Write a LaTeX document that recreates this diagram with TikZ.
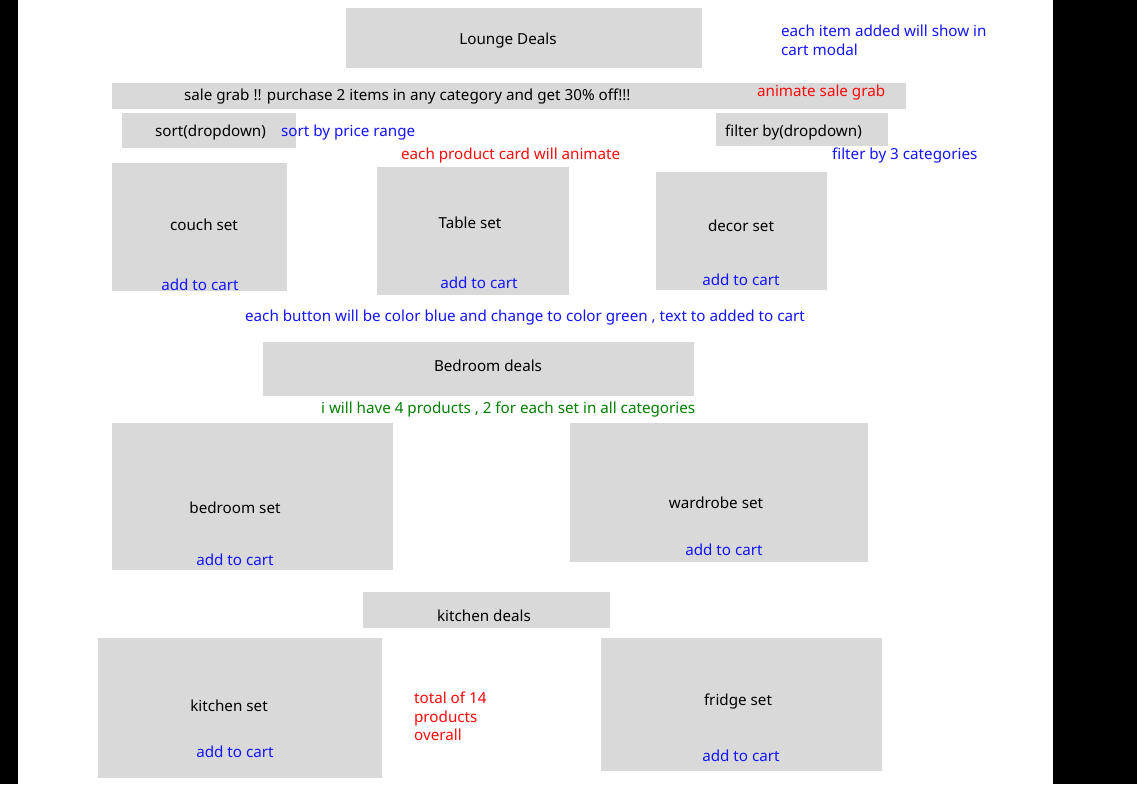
\documentclass[tikz,border=0pt]{standalone}
\usepackage{fontspec}
\setmainfont{Noto Sans}
\definecolor{boxgray}{RGB}{217,217,217}
\definecolor{noteblue}{RGB}{20,20,255}
\definecolor{notered}{RGB}{255,10,10}
\definecolor{notegreen}{RGB}{0,128,0}
\tikzset{every picture/.style={line width=0.75pt}}
\tikzset{
  card/.style={fill=boxgray, draw=none},
  txt/.style={inner sep=0.75pt, yshift=-2pt, font=\fontsize{15.2}{18.5}\selectfont, text=black},
  bluetxt/.style={txt, text=noteblue},
  redtxt/.style={txt, text=notered},
  greentxt/.style={txt, text=notegreen},
}
\begin{document}
\begin{tikzpicture}[x=1pt,y=1pt,yscale=-1,xscale=1]

	\useasboundingbox (0,0) rectangle (1137,784);
	% page frame
	\fill [white] (18,0) rectangle (1053,784);
	\fill [black] (0,0) rectangle (18,784);
	\fill [black] (1053,0) rectangle (1137,784);

	%Shape: Rectangle [header]
	\draw [card] (346,8) rectangle (702,68);
	%Shape: Rectangle [sale bar]
	\draw [card] (112,83) rectangle (906,109);
	%Shape: Rectangle [sort]
	\draw [card] (122,113) rectangle (296,148);
	%Shape: Rectangle [filter]
	\draw [card] (716,113) rectangle (888,146);

	%Shape: Rectangle [lounge cards]
	\draw [card] (112,163) rectangle (287,291);
	\draw [card] (377,167) rectangle (569,295);
	\draw [card] (656,172) rectangle (827,290);

	%Shape: Rectangle [bedroom]
	\draw [card] (263,342) rectangle (694,396);
	\draw [card] (112,423) rectangle (393,570);
	\draw [card] (570,423) rectangle (868,562);

	%Shape: Rectangle [kitchen]
	\draw [card] (363,592) rectangle (610,628);
	\draw [card] (98,638) rectangle (382,778);
	\draw [card] (601,638) rectangle (882,771);

	% Text Node
	\node (lounge) at (508,39) [txt] {Lounge Deals};
	% Text Node
	\node (modal) at (780,22) [bluetxt, anchor=north west, align=left] {each item added will show in\\cart modal};
	% Text Node
	\node (sale) at (183,95) [txt, anchor=west] {sale grab !! purchase 2 items in any category and get 30\% off!!!};
	% Text Node
	\node (animsale) at (756,91) [redtxt, anchor=west] {animate sale grab};
	% Text Node
	\node (sort) at (154,131) [txt, anchor=west] {sort(dropdown)};
	% Text Node
	\node (sortnote) at (280,131) [bluetxt, anchor=west] {sort by price range};
	% Text Node
	\node (filter) at (724,131) [txt, anchor=west] {filter by(dropdown)};
	% Text Node
	\node (filternote) at (831,154) [bluetxt, anchor=west] {filter by 3 categories};
	% Text Node
	\node (animcard) at (400,154) [redtxt, anchor=west] {each product card will animate};

	% Text Node
	\node (couch) at (204,223) [txt] {couch set};
	\node (couchcart) at (200,283) [bluetxt] {add to cart};
	% Text Node
	\node (table) at (470,221) [txt] {Table set};
	\node (tablecart) at (479,281) [bluetxt] {add to cart};
	% Text Node
	\node (decor) at (741,224) [txt] {decor set};
	\node (decorcart) at (741,278) [bluetxt] {add to cart};

	% Text Node
	\node (btnnote) at (244,316) [bluetxt, anchor=west] {each button will be color blue and change to color green , text to added to cart};
	% Text Node
	\node (bedroom) at (488,364) [txt] {Bedroom deals};
	% Text Node
	\node (fournote) at (320,408) [greentxt, anchor=west] {i will have 4 products , 2 for each set in all categories};

	% Text Node
	\node (bedset) at (235,506) [txt] {bedroom set};
	\node (bedcart) at (235,558) [bluetxt] {add to cart};
	% Text Node
	\node (wardrobe) at (716,501) [txt] {wardrobe set};
	\node (wardcart) at (724,548) [bluetxt] {add to cart};

	% Text Node
	\node (kitchen) at (484,614) [txt] {kitchen deals};
	% Text Node
	\node (kitset) at (229,704) [txt] {kitchen set};
	\node (kitcart) at (235,750) [bluetxt] {add to cart};
	% Text Node
	\node (total) at (413,689) [redtxt, anchor=north west, align=left] {total of 14\\products\\overall};
	% Text Node
	\node (fridge) at (738,700) [txt] {fridge set};
	\node (fridgecart) at (741,754) [bluetxt] {add to cart};

\end{tikzpicture}
\end{document}
